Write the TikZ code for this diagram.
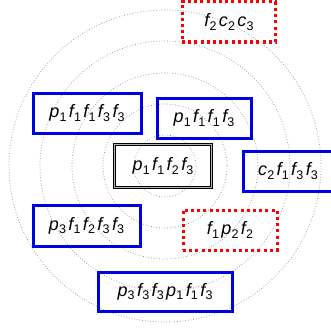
\documentclass[tikz,border=0pt]{standalone}
\usepackage{fontspec}
\setmainfont{Liberation Sans}
\newcommand\tm[2]{{\itshape #1}\kern0.2pt\raisebox{-0.4ex}{\fontsize{12.5}{12.5}\selectfont #2}}
\newcommand\tsp{\hspace{2.4pt}}
\begin{document}
\begin{tikzpicture}[x=1pt,y=-1pt,
  ring/.style={draw=gray!90, dotted, line width=0.7pt},
  bluebox/.style={draw=blue!90!black, line width=3pt, rectangle, inner sep=0pt, minimum height=40pt},
  redbox/.style={draw=red, line width=3pt, dash pattern=on 3pt off 3.2pt, rectangle, inner sep=0pt, minimum height=40pt},
  centerbox/.style={draw=black, double=gray!60, line width=0.9pt, double distance=1.4pt, rectangle, inner sep=0pt},
  lbl/.style={font=\fontsize{18}{18}\selectfont, inner sep=0pt}
]
\useasboundingbox (0,0) rectangle (331,329);
\coordinate (c) at (165,166);
\foreach \r in {31,62,93,125,156} {\draw[ring] (c) circle[radius=\r];}

\node[redbox, minimum width=93pt] (a) at (228.5,22) {};
\node[lbl] (at) at (229,22) {\tm{f}{2}\tsp\tm{c}{2}\tsp\tm{c}{3}};

\node[bluebox, minimum width=108pt] (b) at (87,113) {};
\node[lbl] (bt) at (b) {\tm{p}{1}\tsp\tm{f}{1}\tsp\tm{f}{1}\tsp\tm{f}{3}\tsp\tm{f}{3}};

\node[bluebox, minimum width=94pt] (d) at (204,118) {};
\node[lbl] (dt) at (d) {\tm{p}{1}\tsp\tm{f}{1}\tsp\tm{f}{1}\tsp\tm{f}{3}};

\node[centerbox, minimum width=97pt, minimum height=43pt] (e) at (163,166) {};
\node[lbl] (et) at (e) {\tm{p}{1}\tsp\tm{f}{1}\tsp\tm{f}{2}\tsp\tm{f}{3}};

\node[bluebox, minimum width=92pt] (g) at (289,171) {};
\node[lbl] (gt) at (288,171) {\tm{c}{2}\tsp\tm{f}{1}\tsp\tm{f}{3}\tsp\tm{f}{3}};

\node[bluebox, minimum width=107pt, minimum height=41pt] (h) at (86.5,225.5) {};
\node[lbl] (ht) at (h) {\tm{p}{3}\tsp\tm{f}{1}\tsp\tm{f}{2}\tsp\tm{f}{3}\tsp\tm{f}{3}};

\node[redbox, minimum width=94pt] (k) at (230,230) {};
\node[lbl] (kt) at (k) {\tm{f}{1}\tsp\tm{p}{2}\tsp\tm{f}{2}};

\node[bluebox, minimum width=134pt, minimum height=39pt] (m) at (165,291.5) {};
\node[lbl] (mt) at (m) {\tm{p}{3}\tsp\tm{f}{3}\tsp\tm{f}{3}\tsp\tm{p}{1}\tsp\tm{f}{1}\tsp\tm{f}{3}};
\end{tikzpicture}
\end{document}
